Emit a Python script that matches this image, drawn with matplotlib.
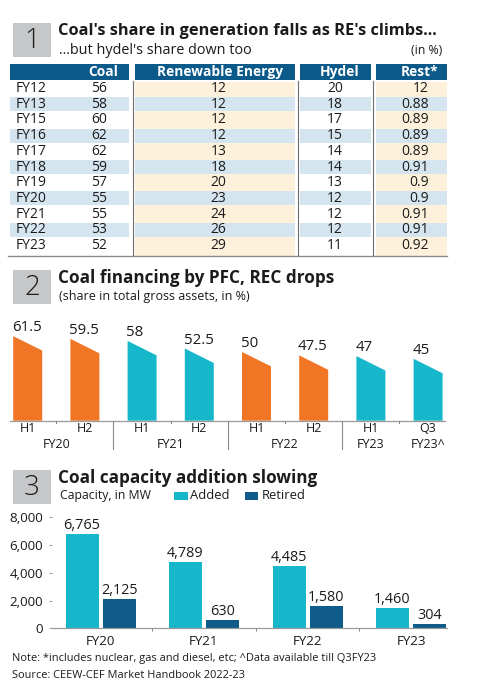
import matplotlib
matplotlib.use("Agg")
import matplotlib.pyplot as plt
from matplotlib.patches import Rectangle, Polygon

plt.rcParams['font.family'] = ['Open Sans', 'DejaVu Sans']

W, H = 489, 691

# generation share table (in %)
years = ['FY12', 'FY13', 'FY15', 'FY16', 'FY17', 'FY18', 'FY19', 'FY20', 'FY21', 'FY22', 'FY23']
coal = [56, 58, 60, 62, 62, 59, 57, 55, 55, 53, 52]
renewable = [12, 12, 12, 12, 13, 18, 20, 23, 24, 26, 29]
hydel = [20, 18, 17, 15, 14, 14, 13, 12, 12, 12, 11]
rest = [12, 0.88, 0.89, 0.89, 0.89, 0.91, 0.9, 0.9, 0.91, 0.91, 0.92]

# coal financing by PFC, REC (share in total gross assets, %)
fin_period = ['H1', 'H2', 'H1', 'H2', 'H1', 'H2', 'H1', 'Q3']
fin_year = ['FY20', 'FY20', 'FY21', 'FY21', 'FY22', 'FY22', 'FY23', 'FY23^']
fin_share = [61.5, 59.5, 58, 52.5, 50, 47.5, 47, 45]

# coal capacity, MW
cap_years = ['FY20', 'FY21', 'FY22', 'FY23']
cap_added = [6765, 4789, 4485, 1460]
cap_retired = [2125, 630, 1580, 304]

BLUE_HDR = '#0c5a8a'
STRIPE = '#d4e5f0'
CREAM = '#fdf1dc'
ORANGE = '#f07525'
TEAL = '#17b7cb'
NAVY = '#0f5c8b'
GREY_BOX = '#c6c7c9'
INK = '#1b1b1b'

fig = plt.figure(figsize=(W / 100, H / 100), dpi=100)
fig.patch.set_facecolor('white')

ax0 = fig.add_axes([0, 0, 1, 1])
ax0.set_xlim(0, W)
ax0.set_ylim(H, 0)
ax0.axis('off')


def px_axes(x0, x1, y0, y1):
    return fig.add_axes([x0 / W, 1 - y1 / H, (x1 - x0) / W, (y1 - y0) / H])


def section(num, top, title, tsize, sub=None, sub_y=None, sub_size=None):
    ax0.add_patch(Rectangle((13, top), 38, 33.5, color=GREY_BOX, lw=0))
    ax0.text(32, top + 17.5, num, ha='center', va='center', fontsize=20,
             color=INK, fontweight='light')
    ax0.text(58, top + 7.5, title, ha='left', va='center', fontsize=tsize,
             fontweight='bold', color=INK)
    if sub:
        ax0.text(59, sub_y, sub, ha='left', va='center', fontsize=sub_size, color=INK)


# ---------------- section 1: table
section('1', 23.3, "Coal's share in generation falls as RE's climbs...", 11.8,
        "...but hydel's share down too", 50, 10.4)
ax0.text(442, 50, '(in %)', ha='right', va='center', fontsize=8.8, color=INK)

cols = [(10, 129.3), (135, 295), (300, 370.7), (376, 447.3)]
hdr_top, hdr_bot = 64.3, 80
row0, row_h = 88.5, 15.7
tab_bot = 256

for (x0, x1) in cols:
    ax0.add_patch(Rectangle((x0, hdr_top), x1 - x0, hdr_bot - hdr_top, color=BLUE_HDR, lw=0))
for k in (1, 3):
    x0, x1 = cols[k]
    ax0.add_patch(Rectangle((x0, hdr_bot + 1.5), x1 - x0, tab_bot - hdr_bot - 1.5, color=CREAM, lw=0))
for i in range(len(years)):
    if i % 2 == 1:
        cy = row0 + i * row_h
        for (x0, x1) in cols:
            ax0.add_patch(Rectangle((x0, cy - 7), x1 - x0, 14, color=STRIPE, lw=0))

for x in (132.5, 297.5, 373.3):
    ax0.plot([x, x], [hdr_bot + 1, tab_bot], color='#6d6d6d', lw=0.8)
ax0.plot([8, 447.3], [tab_bot, tab_bot], color='#8a8a8a', lw=1.0)

hdr_kw = dict(va='center', fontsize=9.9, fontweight='bold', color='white')
hy = (hdr_top + hdr_bot) / 2
ax0.text(118.5, hy, 'Coal', ha='right', **hdr_kw)
ax0.text(220, hy, 'Renewable Energy', ha='center', **hdr_kw)
ax0.text(340, hy, 'Hydel', ha='center', **hdr_kw)
ax0.text(420, hy, 'Rest*', ha='center', **hdr_kw)

cell_kw = dict(va='center', fontsize=10, color=INK)
for i, yr in enumerate(years):
    cy = row0 + i * row_h
    ax0.text(16, cy, yr, ha='left', **cell_kw)
    ax0.text(99, cy, f'{coal[i]}', ha='center', **cell_kw)
    ax0.text(218.5, cy, f'{renewable[i]}', ha='center', **cell_kw)
    ax0.text(335, cy, f'{hydel[i]}', ha='center', **cell_kw)
    ax0.text(428.5, cy, f'{rest[i]:g}', ha='right', **cell_kw)

# ---------------- section 2: financing bars
section('2', 270, 'Coal financing by PFC, REC drops', 12.3,
        '(share in total gross assets, in %)', 296.7, 9.0)

unit2 = 1.375      # px per percentage point
step2 = 57.2       # px between bars
ax2 = px_axes(10, 445, 310, 420.7)
ax2.set_xlim((10 - 27.7) / step2, (445 - 27.7) / step2)
ax2.set_ylim(0, 110.7 / unit2)
ax2.axis('off')

bw = 29 / step2
slant = 10.5
for i, v in enumerate(fin_share):
    c = ORANGE if (i // 2) % 2 == 0 else TEAL
    ax2.add_patch(Polygon([(i - bw / 2, 0), (i - bw / 2, v), (i + bw / 2, v - slant),
                           (i + bw / 2, 0)], closed=True, color=c, lw=0))
    ax2.text(i - bw / 2 - 0.02, v + 3.6, f'{v:g}', ha='left', va='baseline',
             fontsize=10.8, color=INK)
    ax2.text(i, -6.0, fin_period[i], ha='center', va='center', fontsize=9,
             color=INK, clip_on=False)

ax2.plot([-0.31, len(fin_share) - 0.7], [0, 0], color='#9a9a9a', lw=0.9, clip_on=False)
for i in range(len(fin_share) - 1):
    b = i + 0.5
    if i % 2 == 1:
        ax2.plot([b, b], [0, -20.6], color='#8a8a8a', lw=0.8, clip_on=False)
    else:
        ax2.plot([b, b], [0, -1.6], color='#8a8a8a', lw=0.8, clip_on=False)

# year labels, centred under runs of the same year
start = 0
for i in range(1, len(fin_year) + 1):
    if i == len(fin_year) or fin_year[i] != fin_year[start]:
        ax2.text((start + i - 1) / 2, -17.0, fin_year[start], ha='center', va='center',
                 fontsize=9, color=INK, clip_on=False)
        start = i

# ---------------- section 3: capacity bars
section('3', 470, 'Coal capacity addition slowing', 12.3)
ax0.text(59.5, 495.7, 'Capacity, in MW', ha='left', va='center', fontsize=8.8, color=INK)
ax0.add_patch(Rectangle((174, 491.7), 14.3, 8.5, color=TEAL, lw=0))
ax0.text(190.5, 495.7, 'Added', ha='left', va='center', fontsize=9.4, color=INK)
ax0.add_patch(Rectangle((245, 491.7), 13.3, 8.5, color=NAVY, lw=0))
ax0.text(261.5, 495.7, 'Retired', ha='left', va='center', fontsize=9.4, color=INK)

step3 = 103.5
ax3 = px_axes(51.7, 446.7, 517.3, 628.3)
ax3.set_xlim((51.7 - 100.5) / step3, (446.7 - 100.5) / step3)
ax3.set_ylim(0, 8000)
x = list(range(len(cap_years)))
w3 = 33 / step3
off = 18.5 / step3
ax3.bar([i - off for i in x], cap_added, width=w3, color=TEAL)
ax3.bar([i + off for i in x], cap_retired, width=w3, color=NAVY)
for i in x:
    for xx, v in ((i - off, cap_added[i]), (i + off, cap_retired[i])):
        ax3.annotate(f'{v:,}', (xx, v), xytext=(0, 3.6), textcoords='offset points',
                     ha='center', va='baseline', fontsize=10.4, color=INK)

for s in ('top', 'right', 'left'):
    ax3.spines[s].set_visible(False)
ax3.spines['bottom'].set_color('#9a9a9a')
ax3.spines['bottom'].set_linewidth(0.9)
ax3.set_yticks([0, 2000, 4000, 6000, 8000])
ax3.set_yticklabels([f'{t:,}' for t in [0, 2000, 4000, 6000, 8000]])
ax3.tick_params(axis='y', length=2.5, width=0.7, color='#9a9a9a', pad=3.6,
                labelsize=9.6, labelcolor=INK)
ax3.set_xticks(x)
ax3.set_xticklabels(cap_years)
ax3.set_xticks([i + 0.5 for i in x[:-1]], minor=True)
ax3.tick_params(axis='x', which='major', length=0, pad=5, labelsize=9.6, labelcolor=INK)
ax3.tick_params(axis='x', which='minor', length=2, width=0.7, color='#8a8a8a')

# ---------------- notes
ax0.text(11.5, 658.3, 'Note: *includes nuclear, gas and diesel, etc; ^Data available till Q3FY23',
         ha='left', va='center', fontsize=7.9, color=INK)
ax0.text(11.5, 675, 'Source: CEEW-CEF Market Handbook 2022-23',
         ha='left', va='center', fontsize=7.9, color=INK)

fig.savefig('out.png', dpi=100)
